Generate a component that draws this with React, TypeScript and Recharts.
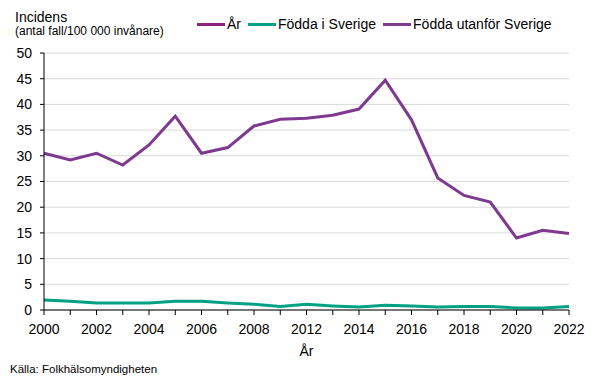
import React from 'react';
import { LineChart, Line, XAxis, YAxis, CartesianGrid, Legend } from 'recharts';

const years = ['2000','2001','2002','2003','2004','2005','2006','2007','2008','2010','2012','2013','2014','2015','2016','2017','2018','2019','2020','2021','2022'];
const foddaISverige = [1.95, 1.7, 1.35, 1.35, 1.35, 1.7, 1.7, 1.35, 1.1, 0.7, 1.1, 0.8, 0.6, 0.9, 0.8, 0.6, 0.7, 0.7, 0.4, 0.4, 0.7];
const foddaUtanfor = [30.5, 29.2, 30.5, 28.2, 32.1, 37.7, 30.5, 31.6, 35.8, 37.1, 37.3, 37.9, 39.1, 44.7, 37.0, 25.7, 22.3, 21.0, 14.0, 15.5, 14.9];
const yTicks = [0, 5, 10, 15, 20, 25, 30, 35, 40, 45, 50];

const data = years.map((y, i) => ({ year: y, sverige: foddaISverige[i], utanfor: foddaUtanfor[i] }));

const FONT = '"Liberation Sans", Arial, sans-serif';

const legendItems = [
  { label: 'År', color: '#8E2383' },
  { label: 'Födda i Sverige', color: '#00A185' },
  { label: 'Födda utanför Sverige', color: '#7D3A8F' },
];

const LegendContent = () => (
  <div style={{ display: 'flex', alignItems: 'center', fontFamily: FONT, fontSize: 14, color: '#000', whiteSpace: 'nowrap' }}>
    {legendItems.map((it, i) => (
      <div key={i} style={{ display: 'flex', alignItems: 'center', marginRight: 7 }}>
        <div style={{ width: 28, height: 3, background: it.color, marginRight: 2 }} />
        <span>{it.label}</span>
      </div>
    ))}
  </div>
);

export default function App() {
  return (
    <div style={{ position: 'absolute', left: 0, top: 0, width: 605, height: 378, background: '#fff' }}>
      <LineChart width={605} height={378} data={data} margin={{ top: 53, right: 36, left: 0, bottom: 38 }}>
        <CartesianGrid horizontal vertical={false} stroke="#d9d9d9" strokeWidth={1} />
        <XAxis
          dataKey="year"
          interval={0}
          height={30}
          tickSize={5}
          tickMargin={9}
          stroke="#000"
          tick={{ fill: '#000', fontSize: 14, fontFamily: FONT }}
          tickFormatter={(v: string, i: number) => (i % 2 === 0 ? v : '')}
        />
        <YAxis
          domain={[0, 50]}
          ticks={yTicks}
          width={44}
          tickSize={4}
          tickMargin={8}
          stroke="#000"
          interval={0}
          tick={{ fill: '#000', fontSize: 14, fontFamily: FONT }}
        />
        <Legend
          layout="horizontal"
          verticalAlign="middle"
          align="center"
          content={<LegendContent />}
          wrapperStyle={{ position: 'absolute', top: 16, left: 197, width: 'auto' }}
        />
        <Line type="linear" dataKey="sverige" name="Födda i Sverige" stroke="#00A185" strokeWidth={3} dot={false} isAnimationActive={false} />
        <Line type="linear" dataKey="utanfor" name="Födda utanför Sverige" stroke="#7D3A8F" strokeWidth={3} dot={false} isAnimationActive={false} />
      </LineChart>
      <svg width={605} height={378} style={{ position: 'absolute', left: 0, top: 0, pointerEvents: 'none' }}>
        <text x={15} y={22} fontFamily={FONT} fontSize={14} fill="#000">Incidens</text>
        <text x={15} y={35} fontFamily={FONT} fontSize={12} fill="#000">(antal fall/100 000 invånare)</text>
        <text x={306.5} y={356} fontFamily={FONT} fontSize={14} fill="#000" textAnchor="middle">År</text>
        <text x={10} y={373} fontFamily={FONT} fontSize={11.5} fill="#000">Källa: Folkhälsomyndigheten</text>
      </svg>
    </div>
  );
}
